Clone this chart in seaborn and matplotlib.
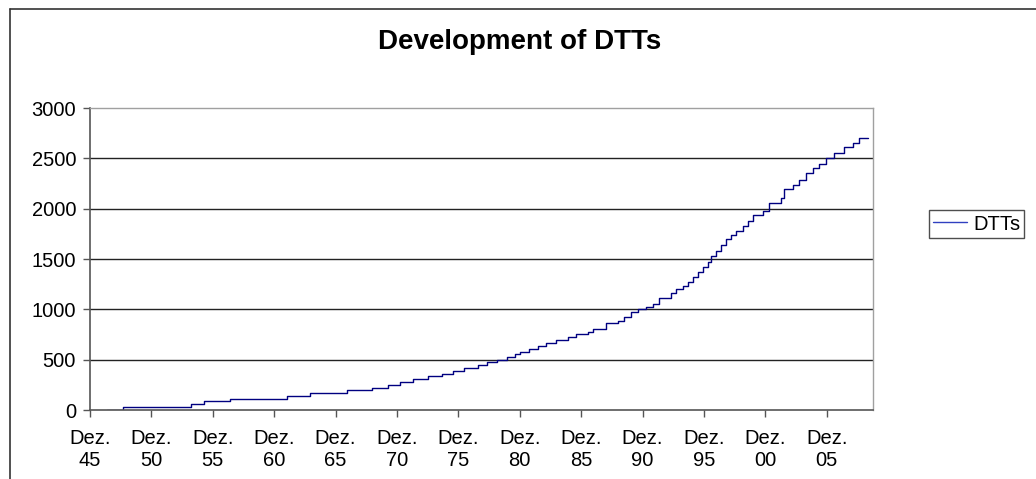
import matplotlib
matplotlib.use("Agg")
import matplotlib.pyplot as plt
from matplotlib.lines import Line2D
import seaborn as sns
import pandas as pd

# Step dates (decimal years) and cumulative DTT counts
step_years = [1947.30, 1948.61, 1954.12, 1955.20, 1957.32, 1961.94, 1963.84, 1966.82,
              1968.86, 1970.21, 1971.16, 1972.22, 1973.44, 1974.58, 1975.48, 1976.38,
              1977.52, 1978.25, 1979.06, 1979.88, 1980.53, 1980.90, 1981.69, 1982.38,
              1983.05, 1983.87, 1984.82, 1985.50, 1986.45, 1986.86, 1987.94, 1988.89,
              1989.43, 1989.98, 1990.52, 1991.20, 1991.74, 1992.28, 1993.23, 1993.64,
              1994.18, 1994.59, 1995.00, 1995.41, 1995.81, 1996.22, 1996.49, 1996.90,
              1997.30, 1997.71, 1998.12, 1998.53, 1999.07, 1999.48, 1999.88, 2000.70,
              2001.24, 2002.19, 2002.46, 2003.14, 2003.68, 2004.23, 2004.77, 2005.31,
              2005.85, 2006.53, 2007.34, 2008.03, 2008.57, 2009.25]
dtts = [0, 25, 55, 85, 110, 140, 165, 195,
        222, 250, 278, 305, 335, 360, 390, 417,
        444, 474, 500, 530, 556, 580, 609, 639,
        669, 695, 722, 752, 778, 808, 861, 887,
        921, 970, 1000, 1026, 1053, 1113, 1165, 1199,
        1232, 1275, 1324, 1374, 1424, 1474, 1530, 1583,
        1639, 1695, 1738, 1782, 1828, 1881, 1937, 1980,
        2053, 2103, 2193, 2235, 2285, 2351, 2401, 2444,
        2500, 2556, 2616, 2656, 2699, 2699]

tick_years = [1945.92, 1950.92, 1955.92, 1960.92, 1965.92, 1970.92, 1975.92,
              1980.92, 1985.92, 1990.92, 1995.92, 2000.92, 2005.92]
tick_labels = ["Dez.\n45", "Dez.\n50", "Dez.\n55", "Dez.\n60", "Dez.\n65", "Dez.\n70",
               "Dez.\n75", "Dez.\n80", "Dez.\n85", "Dez.\n90", "Dez.\n95", "Dez.\n00",
               "Dez.\n05"]
y_ticks = [0, 500, 1000, 1500, 2000, 2500, 3000]

sns.set_theme(style="white")
plt.rcParams["font.family"] = ["Liberation Sans", "DejaVu Sans"]
plt.rcParams["text.color"] = "black"

df = pd.DataFrame({"year": step_years, "DTTs": dtts})

fig = plt.figure(figsize=(10.36, 4.79), dpi=100)
W, H = 1036, 479
ax = fig.add_axes([90 / W, 1 - 410 / H, (873 - 90) / W, (410 - 108) / H])

sns.lineplot(data=df, x="year", y="DTTs", ax=ax, color="#000080", linewidth=1.0,
             drawstyle="steps-post", estimator=None, label="DTTs")

ax.set_xlim(1945.92, 1945.92 + (873 - 90) / 12.28)
ax.set_ylim(0, 3000)
ax.set_yticks(y_ticks)
ax.set_yticklabels([str(v) for v in y_ticks])
ax.set_xticks(tick_years)
ax.set_xticklabels(tick_labels, linespacing=1.2)
ax.set_xlabel("")
ax.set_ylabel("")

for v in y_ticks[1:-1]:
    ax.axhline(v, color="#222222", linewidth=1.0, zorder=0)

for side in ["top", "right"]:
    ax.spines[side].set_color("#a0a0a0")
    ax.spines[side].set_linewidth(1.0)
for side in ["left", "bottom"]:
    ax.spines[side].set_color("#555555")
    ax.spines[side].set_linewidth(1.2)

ax.tick_params(axis="both", which="major", labelsize=14.5, labelcolor="black",
               direction="out", length=5, width=1.0, bottom=True, left=True,
               color="#555555")
ax.tick_params(axis="y", pad=5)
ax.tick_params(axis="x", pad=9)
ax.grid(False)

fig.text(520 / W, 1 - 42 / H, "Development of DTTs", ha="center", va="center",
         fontsize=20, fontweight="bold", color="black")

leg = ax.legend(loc="center left", bbox_to_anchor=(929 / W, 1 - 224 / H),
                bbox_transform=fig.transFigure, frameon=True, fancybox=False,
                fontsize=14.5, handlelength=1.7, borderpad=0.2, handletextpad=0.3,
                borderaxespad=0, labelcolor="black")
leg.get_frame().set_edgecolor("#222222")
leg.get_frame().set_linewidth(1.0)
for l in leg.get_lines():
    l.set_color("#3040c0")

# outer chart-area border (left and top only, as cropped in the reference)
fig.add_artist(Line2D([10 / W, 10 / W], [0, 1 - 9 / H], transform=fig.transFigure,
                      color="#333333", linewidth=1.2))
fig.add_artist(Line2D([10 / W, 1], [1 - 9 / H, 1 - 9 / H], transform=fig.transFigure,
                      color="#333333", linewidth=1.2))

fig.savefig("out.png", dpi=100)
